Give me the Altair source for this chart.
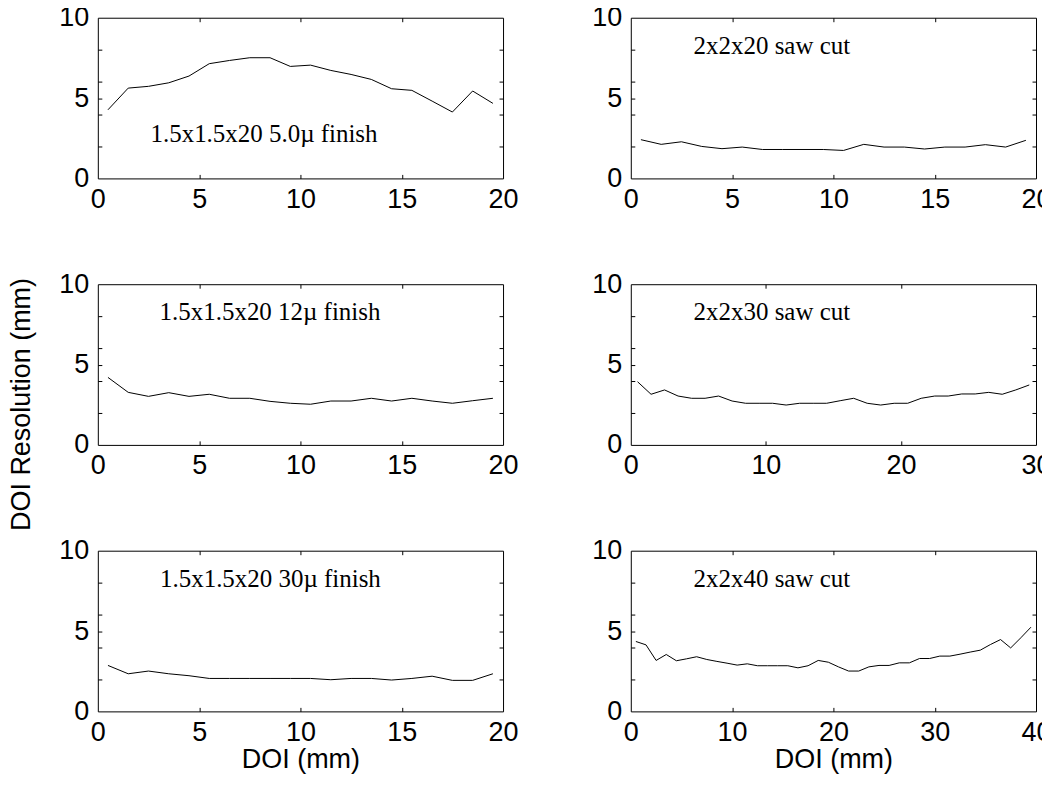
import altair as alt
import pandas as pd

# ---------------- data ----------------
doi_20 = [0.5, 1.5, 2.5, 3.5, 4.5, 5.5, 6.5, 7.5, 8.5, 9.5,
          10.5, 11.5, 12.5, 13.5, 14.5, 15.5, 16.5, 17.5, 18.5, 19.5]
doi_30 = doi_20 + [20.5, 21.5, 22.5, 23.5, 24.5, 25.5, 26.5, 27.5, 28.5, 29.5]
doi_40 = doi_30 + [30.5, 31.5, 32.5, 33.5, 34.5, 35.5, 36.5, 37.5, 38.5, 39.5]

res_finish_5 = [4.27, 5.62, 5.73, 5.95, 6.37, 7.14, 7.34, 7.51, 7.51, 6.97,
                7.05, 6.72, 6.47, 6.16, 5.58, 5.48, 4.81, 4.13, 5.44, 4.67]
res_saw_20 = [2.41, 2.12, 2.28, 1.99, 1.85, 1.95, 1.80, 1.80, 1.80, 1.80,
              1.74, 2.12, 1.95, 1.95, 1.83, 1.95, 1.95, 2.10, 1.95, 2.37]
res_finish_12 = [4.20, 3.27, 3.02, 3.25, 3.02, 3.15, 2.90, 2.90, 2.71, 2.59,
                 2.53, 2.73, 2.73, 2.90, 2.73, 2.90, 2.73, 2.59, 2.75, 2.90]
res_saw_30 = [3.93, 3.15, 3.42, 3.04, 2.90, 2.90, 3.04, 2.73, 2.59, 2.59,
              2.59, 2.48, 2.59, 2.59, 2.59, 2.75, 2.90, 2.59, 2.48, 2.59,
              2.59, 2.90, 3.04, 3.04, 3.17, 3.17, 3.27, 3.15, 3.42, 3.73]
res_finish_30 = [2.86, 2.34, 2.51, 2.34, 2.22, 2.05, 2.05, 2.05, 2.05, 2.05,
                 2.05, 1.97, 2.05, 2.05, 1.95, 2.05, 2.19, 1.93, 1.93, 2.34]
res_saw_40 = [4.35, 4.14, 3.17, 3.54, 3.15, 3.27, 3.40, 3.23, 3.11, 3.00,
              2.88, 2.96, 2.84, 2.84, 2.84, 2.84, 2.71, 2.84, 3.17, 3.06,
              2.77, 2.51, 2.51, 2.77, 2.86, 2.86, 3.02, 3.02, 3.29, 3.29,
              3.44, 3.44, 3.56, 3.69, 3.81, 4.16, 4.47, 3.95, 4.58, 5.24]

labels = ["1.5x1.5x20 5.0\u00b5 finish", "2x2x20 saw cut",
          "1.5x1.5x20 12\u00b5 finish", "2x2x30 saw cut",
          "1.5x1.5x20 30\u00b5 finish", "2x2x40 saw cut"]
label_x = [2.6, 3.1, 3.05, 4.65, 3.07, 6.2]
label_y = [2.24, 7.76, 7.76, 7.76, 7.73, 7.73]

x_labels_20 = [0, 5, 10, 15, 20]
x_labels_30 = [0, 10, 20, 30]
x_labels_40 = [0, 10, 20, 30, 40]
x_ticks_20 = [5, 10, 15]
x_ticks_30 = [10, 20]
x_ticks_40 = [10, 20, 30]
y_labels = [0, 5, 10]
y_ticks = [2, 4, 5, 6, 8]

# ---------------- styling ----------------
W, H = 406, 161
SANS = "Liberation Sans"
SERIF = "Liberation Serif"
FS = 27
TICK = 4


def panel(xs, ys, xmax, xlab, xtick, text, tx, ty, xtitle=None, ytitle=None):
    df = pd.DataFrame({"doi": xs, "res": ys})
    xscale = alt.Scale(domain=[0, xmax], nice=False, zero=True)
    yscale = alt.Scale(domain=[0, 10], nice=False, zero=True)

    xaxis = dict(values=xlab, ticks=False, tickSize=0, domain=False, grid=False,
                 labelFont=SANS, labelFontSize=FS, labelColor="black",
                 labelBaseline="alphabetic", labelPadding=29, labelFlush=False,
                 labelOverlap=False)
    if xtitle:
        xaxis.update(titleFont=SANS, titleFontSize=FS,
                     titleFontWeight="normal", titleColor="black",
                     titleY=56, titleBaseline="alphabetic")
    yaxis = dict(values=y_labels, ticks=False, tickSize=0, domain=False, grid=False,
                 labelFont=SANS, labelFontSize=FS, labelColor="black",
                 labelPadding=9, labelFlush=False, labelOverlap=False)
    if ytitle:
        yaxis.update(titleFont=SANS, titleFontSize=FS,
                     titleFontWeight="normal", titleColor="black",
                     titleX=-68, titleY=120, titleBaseline="alphabetic")

    base = alt.Chart(df)
    line = base.mark_line(color="black", strokeWidth=1).encode(
        x=alt.X("doi:Q", scale=xscale, axis=alt.Axis(**xaxis),
                title=xtitle if xtitle else None),
        y=alt.Y("res:Q", scale=yscale, axis=alt.Axis(**yaxis),
                title=ytitle if ytitle else None),
    )
    tick_common = dict(labels=False, domain=False, grid=False, ticks=True,
                       tickSize=TICK, tickColor="black", tickWidth=1)
    ticks_a = base.mark_line(opacity=0).encode(
        x=alt.X("doi:Q", scale=xscale, title=None,
                axis=alt.Axis(orient="top", offset=-H, values=xtick, **tick_common)),
        y=alt.Y("res:Q", scale=yscale, title=None,
                axis=alt.Axis(orient="right", offset=-W, values=y_ticks, **tick_common)),
    )
    ticks_b = base.mark_line(opacity=0).encode(
        x=alt.X("doi:Q", scale=xscale, title=None,
                axis=alt.Axis(orient="bottom", offset=-H, values=xtick, **tick_common)),
        y=alt.Y("res:Q", scale=yscale, title=None,
                axis=alt.Axis(orient="left", offset=-W, values=y_ticks, **tick_common)),
    )
    note = alt.Chart(pd.DataFrame({"x": [tx], "y": [ty], "t": [text]})).mark_text(
        align="left", baseline="alphabetic", font=SERIF, fontSize=25, color="black"
    ).encode(
        x=alt.X("x:Q", scale=xscale, axis=None),
        y=alt.Y("y:Q", scale=yscale, axis=None),
        text="t:N",
    )
    return alt.layer(line, ticks_a, ticks_b, note).resolve_axis(
        x="independent", y="independent"
    ).properties(width=W, height=H)


p1 = panel(doi_20, res_finish_5, 20, x_labels_20, x_ticks_20, labels[0], label_x[0], label_y[0])
p2 = panel(doi_20, res_saw_20, 20, x_labels_20, x_ticks_20, labels[1], label_x[1], label_y[1])
p3 = panel(doi_20, res_finish_12, 20, x_labels_20, x_ticks_20, labels[2], label_x[2], label_y[2],
           ytitle="DOI Resolution (mm)")
p4 = panel(doi_30, res_saw_30, 30, x_labels_30, x_ticks_30, labels[3], label_x[3], label_y[3])
p5 = panel(doi_20, res_finish_30, 20, x_labels_20, x_ticks_20, labels[4], label_x[4], label_y[4],
           xtitle="DOI (mm)")
p6 = panel(doi_40, res_saw_40, 40, x_labels_40, x_ticks_40, labels[5], label_x[5], label_y[5],
           xtitle="DOI (mm)")

chart = alt.concat(
    p1, p2, p3, p4, p5, p6, columns=2,
    spacing={"row": 106, "column": 128}, bounds="flush",
).configure_view(
    stroke="black", strokeWidth=1
).properties(
    padding={"left": -1, "top": -6, "right": -10, "bottom": 0},
    background="white",
)

chart.save("out.html", embed_options={"renderer": "svg", "actions": False})
